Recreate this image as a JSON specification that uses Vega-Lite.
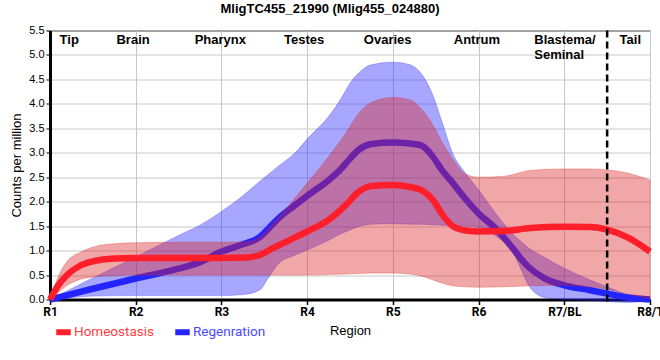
{
  "$schema": "https://vega.github.io/schema/vega-lite/v6.json",
  "width": 600,
  "height": 269,
  "autosize": {"type": "none"},
  "padding": {"left": 50, "top": 30.5, "right": 10, "bottom": 60.5},
  "background": "white",
  "title": {
    "text": "MligTC455_21990 (Mlig455_024880)",
    "font": "Liberation Sans",
    "fontSize": 13,
    "fontWeight": "bold",
    "color": "black",
    "anchor": "middle",
    "offset": 12,
    "dx": -20,
    "dy": 3
  },
  "config": {
    "view": {"stroke": "black", "strokeWidth": 1},
    "axis": {
      "domainColor": "black",
      "domainWidth": 3,
      "tickColor": "black",
      "gridColor": "#c8c8c8",
      "gridWidth": 1,
      "labelColor": "black",
      "titleColor": "black",
      "labelFlush": false,
      "labelOverlap": false
    },
    "axisX": {
      "labelFont": "Roboto", "labelFontWeight": "bold", "labelFontSize": 12, "labelPadding": 2, "tickSize": 5, "tickWidth": 1.5,
      "titleFont": "Liberation Sans", "titleFontSize": 13, "titleFontWeight": "normal", "titlePadding": 7
    },
    "axisY": {
      "labelFont": "Liberation Sans", "labelFontSize": 11, "labelPadding": 2, "tickSize": 4,
      "titleFont": "Liberation Sans", "titleFontSize": 13, "titleFontWeight": "normal", "titlePadding": 5
    }
  },
  "datasets": {
    "series": [
      {"x": 1.0, "group": "Homeostasis", "mean": 0, "lo": 0, "hi": 0},
      {"x": 1.1, "group": "Homeostasis", "mean": 0.3, "lo": 0.15, "hi": 0.48},
      {"x": 1.2, "group": "Homeostasis", "mean": 0.5, "lo": 0.29, "hi": 0.78},
      {"x": 1.35, "group": "Homeostasis", "mean": 0.69, "lo": 0.41, "hi": 0.96},
      {"x": 1.5, "group": "Homeostasis", "mean": 0.78, "lo": 0.46, "hi": 1.07},
      {"x": 1.75, "group": "Homeostasis", "mean": 0.84, "lo": 0.49, "hi": 1.14},
      {"x": 2.0, "group": "Homeostasis", "mean": 0.85, "lo": 0.5, "hi": 1.16},
      {"x": 2.5, "group": "Homeostasis", "mean": 0.85, "lo": 0.5, "hi": 1.17},
      {"x": 3.0, "group": "Homeostasis", "mean": 0.85, "lo": 0.5, "hi": 1.17},
      {"x": 3.3, "group": "Homeostasis", "mean": 0.86, "lo": 0.5, "hi": 1.18},
      {"x": 3.45, "group": "Homeostasis", "mean": 0.91, "lo": 0.5, "hi": 1.28},
      {"x": 3.6, "group": "Homeostasis", "mean": 1.05, "lo": 0.5, "hi": 1.55},
      {"x": 3.8, "group": "Homeostasis", "mean": 1.22, "lo": 0.5, "hi": 1.95},
      {"x": 4.0, "group": "Homeostasis", "mean": 1.39, "lo": 0.5, "hi": 2.38},
      {"x": 4.25, "group": "Homeostasis", "mean": 1.63, "lo": 0.51, "hi": 2.92},
      {"x": 4.45, "group": "Homeostasis", "mean": 1.93, "lo": 0.52, "hi": 3.4},
      {"x": 4.6, "group": "Homeostasis", "mean": 2.2, "lo": 0.53, "hi": 3.8},
      {"x": 4.75, "group": "Homeostasis", "mean": 2.32, "lo": 0.54, "hi": 4.03},
      {"x": 5.0, "group": "Homeostasis", "mean": 2.34, "lo": 0.54, "hi": 4.13},
      {"x": 5.2, "group": "Homeostasis", "mean": 2.3, "lo": 0.52, "hi": 4.08},
      {"x": 5.35, "group": "Homeostasis", "mean": 2.22, "lo": 0.47, "hi": 3.86},
      {"x": 5.47, "group": "Homeostasis", "mean": 2.03, "lo": 0.4, "hi": 3.56},
      {"x": 5.58, "group": "Homeostasis", "mean": 1.73, "lo": 0.33, "hi": 3.2},
      {"x": 5.7, "group": "Homeostasis", "mean": 1.5, "lo": 0.28, "hi": 2.87},
      {"x": 5.85, "group": "Homeostasis", "mean": 1.41, "lo": 0.26, "hi": 2.56},
      {"x": 6.0, "group": "Homeostasis", "mean": 1.39, "lo": 0.25, "hi": 2.5},
      {"x": 6.3, "group": "Homeostasis", "mean": 1.4, "lo": 0.26, "hi": 2.52},
      {"x": 6.6, "group": "Homeostasis", "mean": 1.46, "lo": 0.28, "hi": 2.64},
      {"x": 7.0, "group": "Homeostasis", "mean": 1.49, "lo": 0.29, "hi": 2.67},
      {"x": 7.3, "group": "Homeostasis", "mean": 1.48, "lo": 0.26, "hi": 2.67},
      {"x": 7.5, "group": "Homeostasis", "mean": 1.43, "lo": 0.21, "hi": 2.65},
      {"x": 7.75, "group": "Homeostasis", "mean": 1.26, "lo": 0.11, "hi": 2.58},
      {"x": 8.0, "group": "Homeostasis", "mean": 0.98, "lo": 0.02, "hi": 2.44},
      {"x": 1.0, "group": "Regenration", "mean": 0, "lo": 0, "hi": 0},
      {"x": 1.25, "group": "Regenration", "mean": 0.11, "lo": 0.04, "hi": 0.22},
      {"x": 1.5, "group": "Regenration", "mean": 0.22, "lo": 0.07, "hi": 0.44},
      {"x": 2.0, "group": "Regenration", "mean": 0.43, "lo": 0.08, "hi": 0.87},
      {"x": 2.5, "group": "Regenration", "mean": 0.63, "lo": 0.08, "hi": 1.31},
      {"x": 2.75, "group": "Regenration", "mean": 0.76, "lo": 0.08, "hi": 1.52},
      {"x": 3.0, "group": "Regenration", "mean": 0.98, "lo": 0.08, "hi": 1.8},
      {"x": 3.25, "group": "Regenration", "mean": 1.13, "lo": 0.1, "hi": 2.12},
      {"x": 3.45, "group": "Regenration", "mean": 1.28, "lo": 0.2, "hi": 2.42},
      {"x": 3.55, "group": "Regenration", "mean": 1.45, "lo": 0.45, "hi": 2.56},
      {"x": 3.66, "group": "Regenration", "mean": 1.65, "lo": 0.72, "hi": 2.72},
      {"x": 3.86, "group": "Regenration", "mean": 1.93, "lo": 0.91, "hi": 3.0},
      {"x": 4.0, "group": "Regenration", "mean": 2.12, "lo": 1.01, "hi": 3.28},
      {"x": 4.25, "group": "Regenration", "mean": 2.44, "lo": 1.21, "hi": 3.74},
      {"x": 4.4, "group": "Regenration", "mean": 2.68, "lo": 1.35, "hi": 4.12},
      {"x": 4.5, "group": "Regenration", "mean": 2.88, "lo": 1.42, "hi": 4.42},
      {"x": 4.6, "group": "Regenration", "mean": 3.06, "lo": 1.49, "hi": 4.63},
      {"x": 4.75, "group": "Regenration", "mean": 3.18, "lo": 1.54, "hi": 4.8},
      {"x": 5.0, "group": "Regenration", "mean": 3.21, "lo": 1.55, "hi": 4.85},
      {"x": 5.2, "group": "Regenration", "mean": 3.19, "lo": 1.54, "hi": 4.8},
      {"x": 5.33, "group": "Regenration", "mean": 3.15, "lo": 1.54, "hi": 4.62},
      {"x": 5.45, "group": "Regenration", "mean": 2.96, "lo": 1.53, "hi": 4.25},
      {"x": 5.57, "group": "Regenration", "mean": 2.65, "lo": 1.52, "hi": 3.65},
      {"x": 5.7, "group": "Regenration", "mean": 2.38, "lo": 1.51, "hi": 2.98},
      {"x": 5.84, "group": "Regenration", "mean": 2.07, "lo": 1.5, "hi": 2.6},
      {"x": 6.0, "group": "Regenration", "mean": 1.76, "lo": 1.47, "hi": 2.24},
      {"x": 6.2, "group": "Regenration", "mean": 1.45, "lo": 1.3, "hi": 1.76},
      {"x": 6.42, "group": "Regenration", "mean": 1.0, "lo": 0.9, "hi": 1.3},
      {"x": 6.5, "group": "Regenration", "mean": 0.82, "lo": 0.6, "hi": 1.18},
      {"x": 6.58, "group": "Regenration", "mean": 0.67, "lo": 0.3, "hi": 1.06},
      {"x": 6.77, "group": "Regenration", "mean": 0.43, "lo": 0.04, "hi": 0.86},
      {"x": 7.0, "group": "Regenration", "mean": 0.29, "lo": 0.0, "hi": 0.64},
      {"x": 7.3, "group": "Regenration", "mean": 0.19, "lo": -0.02, "hi": 0.4},
      {"x": 7.5, "group": "Regenration", "mean": 0.12, "lo": -0.04, "hi": 0.26},
      {"x": 7.75, "group": "Regenration", "mean": 0.04, "lo": -0.06, "hi": 0.09},
      {"x": 8.0, "group": "Regenration", "mean": 0.0, "lo": -0.02, "hi": 0.02}
    ],
    "regions": [
      {"label": "Tip", "pos": 1.224},
      {"label": "Brain", "pos": 1.969},
      {"label": "Pharynx", "pos": 2.987},
      {"label": "Testes", "pos": 3.964},
      {"label": "Ovaries", "pos": 4.94},
      {"label": "Antrum", "pos": 5.98},
      {"label": "Tail", "pos": 7.77}
    ],
    "regionsLeft": [
      {"label": "Blastema/\nSeminal", "pos": 6.65}
    ],
    "boundary": [
      {"pos": 7.5}
    ]
  },
  "layer": [
    {
      "data": {"name": "series"},
      "transform": [{"filter": "datum.group === 'Regenration'"}],
      "mark": {"type": "area", "interpolate": "monotone", "color": "#2222ff", "fillOpacity": 0.4, "stroke": "#2222ff", "strokeOpacity": 0.3, "strokeWidth": 1},
      "encoding": {
        "x": {"field": "x", "type": "quantitative", "scale": {"domain": [1, 8], "nice": false, "zero": false},
          "axis": {"values": [1, 2, 3, 4, 5, 6, 7, 8], "labelExpr": "datum.value == 7 ? 'R7/BL' : datum.value == 8 ? 'R8/T' : 'R' + datum.value", "title": "Region"}},
        "y": {"field": "lo", "type": "quantitative", "scale": {"domain": [0, 5.5], "nice": false, "zero": false},
          "axis": {"values": [0, 0.5, 1, 1.5, 2, 2.5, 3, 3.5, 4, 4.5, 5, 5.5], "format": ".1f", "title": "Counts per million"}},
        "y2": {"field": "hi"}
      }
    },
    {
      "data": {"name": "series"},
      "transform": [{"filter": "datum.group === 'Regenration'"}],
      "mark": {"type": "line", "interpolate": "monotone", "strokeWidth": 6.5},
      "encoding": {
        "x": {"field": "x", "type": "quantitative",
          "axis": {"values": [1, 2, 3, 4, 5, 6, 7, 8], "labelExpr": "datum.value == 7 ? 'R7/BL' : datum.value == 8 ? 'R8/T' : 'R' + datum.value", "title": "Region"}},
        "y": {"field": "mean", "type": "quantitative",
          "axis": {"values": [0, 0.5, 1, 1.5, 2, 2.5, 3, 3.5, 4, 4.5, 5, 5.5], "format": ".1f", "title": "Counts per million"}},
        "color": {"field": "group", "type": "nominal",
          "scale": {"domain": ["Homeostasis", "Regenration"], "range": ["#ff1f2a", "#2424ff"]},
          "legend": {"orient": "none", "legendX": 3, "legendY": 291, "direction": "horizontal", "title": null,
            "symbolType": "stroke", "symbolStrokeWidth": 6, "symbolSize": 210, "labelFont": "Roboto", "labelFontSize": 13.5,
            "columnPadding": 9, "labelOffset": 0,
            "encode": {"labels": {"update": {"fill": {"signal": "datum.label === 'Homeostasis' ? '#ff3d45' : '#4a4aff'"}}}}}}
      }
    },
    {
      "data": {"name": "series"},
      "transform": [{"filter": "datum.group === 'Homeostasis'"}],
      "mark": {"type": "area", "interpolate": "monotone", "color": "#dd2222", "fillOpacity": 0.4, "stroke": "#dd2222", "strokeOpacity": 0.3, "strokeWidth": 1},
      "encoding": {
        "x": {"field": "x", "type": "quantitative",
          "axis": {"values": [1, 2, 3, 4, 5, 6, 7, 8], "labelExpr": "datum.value == 7 ? 'R7/BL' : datum.value == 8 ? 'R8/T' : 'R' + datum.value", "title": "Region"}},
        "y": {"field": "lo", "type": "quantitative",
          "axis": {"values": [0, 0.5, 1, 1.5, 2, 2.5, 3, 3.5, 4, 4.5, 5, 5.5], "format": ".1f", "title": "Counts per million"}},
        "y2": {"field": "hi"}
      }
    },
    {
      "data": {"name": "series"},
      "transform": [{"filter": "datum.group === 'Homeostasis'"}],
      "mark": {"type": "line", "interpolate": "monotone", "strokeWidth": 6.5},
      "encoding": {
        "x": {"field": "x", "type": "quantitative",
          "axis": {"values": [1, 2, 3, 4, 5, 6, 7, 8], "labelExpr": "datum.value == 7 ? 'R7/BL' : datum.value == 8 ? 'R8/T' : 'R' + datum.value", "title": "Region"}},
        "y": {"field": "mean", "type": "quantitative",
          "axis": {"values": [0, 0.5, 1, 1.5, 2, 2.5, 3, 3.5, 4, 4.5, 5, 5.5], "format": ".1f", "title": "Counts per million"}},
        "color": {"field": "group", "type": "nominal"}
      }
    },
    {
      "data": {"name": "boundary"},
      "mark": {"type": "rule", "color": "black", "strokeWidth": 2.5, "strokeDash": [7, 4]},
      "encoding": {
        "x": {"field": "pos", "type": "quantitative",
          "axis": {"values": [1, 2, 3, 4, 5, 6, 7, 8], "labelExpr": "datum.value == 7 ? 'R7/BL' : datum.value == 8 ? 'R8/T' : 'R' + datum.value", "title": "Region"}},
        "y": {"datum": 5.5, "type": "quantitative",
          "axis": {"values": [0, 0.5, 1, 1.5, 2, 2.5, 3, 3.5, 4, 4.5, 5, 5.5], "format": ".1f", "title": "Counts per million"}},
        "y2": {"datum": -0.12}
      }
    },
    {
      "data": {"name": "regions"},
      "mark": {"type": "text", "font": "Liberation Sans", "fontSize": 13, "fontWeight": "bold", "color": "black", "align": "center", "baseline": "alphabetic"},
      "encoding": {
        "x": {"field": "pos", "type": "quantitative",
          "axis": {"values": [1, 2, 3, 4, 5, 6, 7, 8], "labelExpr": "datum.value == 7 ? 'R7/BL' : datum.value == 8 ? 'R8/T' : 'R' + datum.value", "title": "Region"}},
        "y": {"datum": 5.225, "type": "quantitative",
          "axis": {"values": [0, 0.5, 1, 1.5, 2, 2.5, 3, 3.5, 4, 4.5, 5, 5.5], "format": ".1f", "title": "Counts per million"}},
        "text": {"field": "label"}
      }
    },
    {
      "data": {"name": "regionsLeft"},
      "mark": {"type": "text", "font": "Liberation Sans", "fontSize": 13, "fontWeight": "bold", "color": "black", "align": "left", "baseline": "alphabetic", "lineBreak": "\n", "lineHeight": 15},
      "encoding": {
        "x": {"field": "pos", "type": "quantitative",
          "axis": {"values": [1, 2, 3, 4, 5, 6, 7, 8], "labelExpr": "datum.value == 7 ? 'R7/BL' : datum.value == 8 ? 'R8/T' : 'R' + datum.value", "title": "Region"}},
        "y": {"datum": 5.225, "type": "quantitative",
          "axis": {"values": [0, 0.5, 1, 1.5, 2, 2.5, 3, 3.5, 4, 4.5, 5, 5.5], "format": ".1f", "title": "Counts per million"}},
        "text": {"field": "label"}
      }
    }
  ]
}
